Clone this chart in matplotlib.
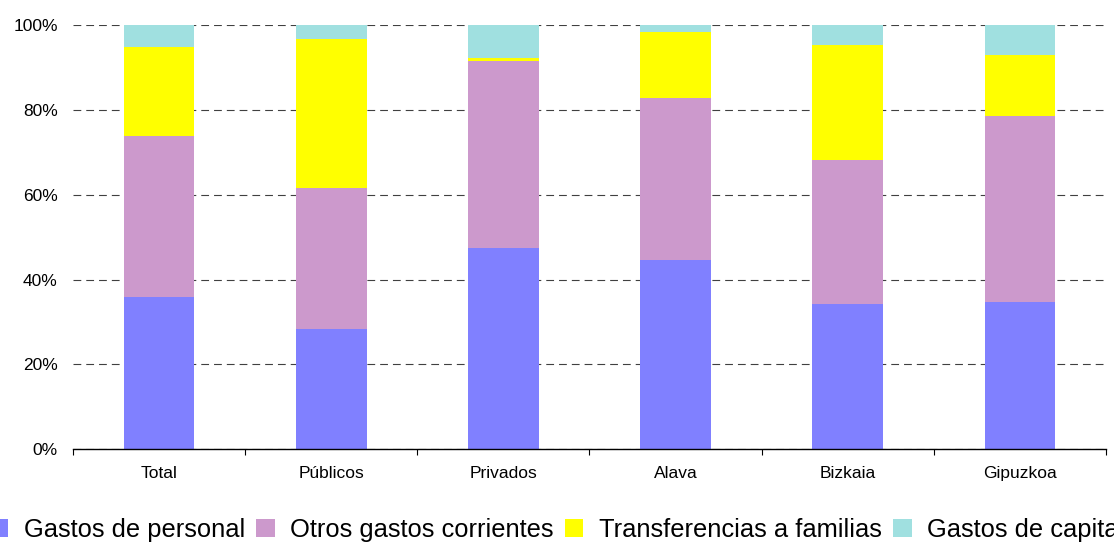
import numpy as np
import matplotlib.pyplot as plt
from matplotlib.ticker import FixedLocator, PercentFormatter

plt.rcParams['font.family'] = ['Liberation Sans', 'DejaVu Sans']

# shares (%) by group
categories = ['Total', 'Públicos', 'Privados', 'Alava', 'Bizkaia', 'Gipuzkoa']
personal = [35.9, 28.4, 47.5, 44.6, 34.3, 34.7]
otros = [38.0, 33.2, 44.0, 38.3, 33.9, 43.9]
transferencias = [20.9, 35.1, 0.7, 15.5, 27.1, 14.3]
capital = [5.2, 3.3, 7.8, 1.6, 4.7, 7.1]

series = [
    ('Gastos de personal', personal, '#8080FF'),
    ('Otros gastos corrientes', otros, '#CC99CC'),
    ('Transferencias a familias', transferencias, '#FFFF00'),
    ('Gastos de capital', capital, '#A0E0E0'),
]

fig = plt.figure(figsize=(11.14, 5.42), dpi=100)
ax = fig.add_axes([0.0655, 0.171, 0.9273, 0.7829])

x = np.arange(len(categories))
bottom = np.zeros(len(categories))
for label, vals, color in series:
    vals = np.array(vals)
    ax.bar(x, vals, width=0.41, bottom=bottom, color=color, label=label, zorder=2)
    bottom += vals

ax.set_xlim(-0.5, len(categories) - 0.5)
ax.set_ylim(0, 100)
ax.set_yticks(np.arange(0, 101, 20))
ax.yaxis.set_major_formatter(PercentFormatter(decimals=0))
ax.yaxis.grid(True, color='#404040', linestyle=(0, (7, 4.5)), linewidth=0.8, zorder=1)
ax.set_axisbelow(True)

ax.set_xticks(x)
ax.set_xticklabels(categories)
ax.xaxis.set_minor_locator(FixedLocator(np.arange(-0.5, len(categories), 1.0)))
ax.tick_params(axis='x', which='major', length=0, pad=12, labelsize=12.5)
ax.tick_params(axis='x', which='minor', length=4, width=0.8, direction='out')
ax.tick_params(axis='y', length=0, pad=11, labelsize=12.5)

for s in ['top', 'right', 'left']:
    ax.spines[s].set_visible(False)
ax.spines['bottom'].set_linewidth(1.0)

fig.legend(loc='center', bbox_to_anchor=(0.5, 1 - 530 / 542), ncol=4, frameon=False,
           fontsize=18.4, handlelength=0.72, handleheight=0.72, handletextpad=0.6,
           columnspacing=0.45, borderaxespad=0, borderpad=0)

fig.savefig('out.png', dpi=100)
